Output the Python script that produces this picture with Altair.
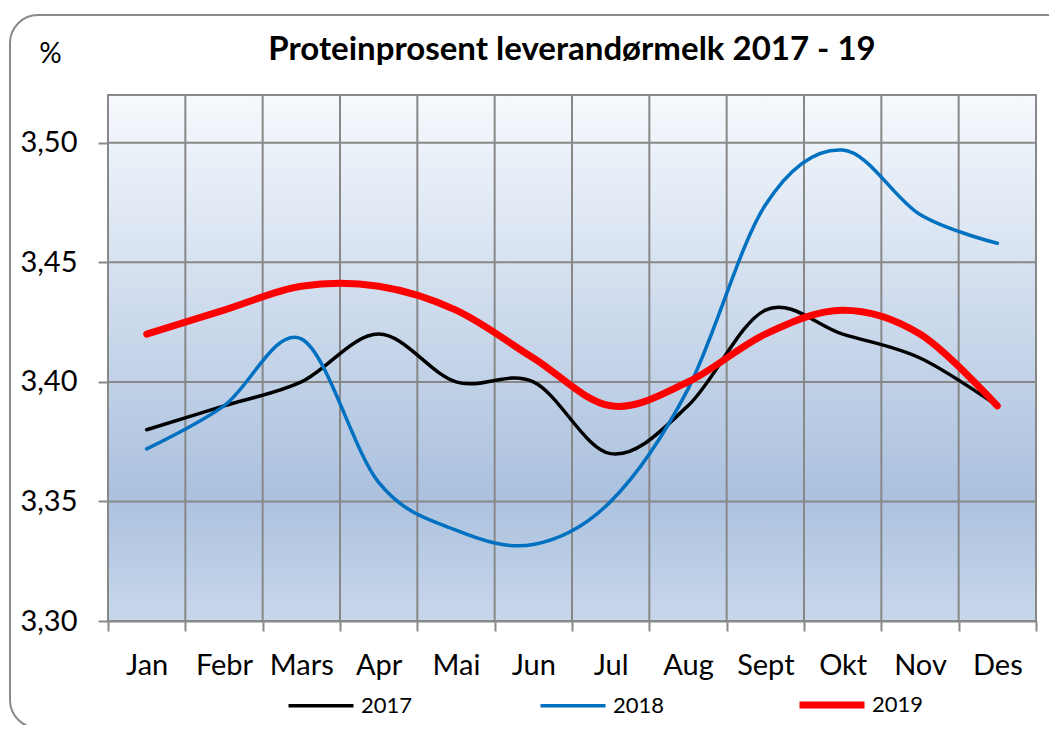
import altair as alt
import pandas as pd

months = ["Jan", "Febr", "Mars", "Apr", "Mai", "Jun", "Jul", "Aug", "Sept", "Okt", "Nov", "Des"]
years = ["2017", "2018", "2019"]
v2017 = [3.38, 3.39, 3.40, 3.42, 3.40, 3.40, 3.37, 3.39, 3.43, 3.42, 3.41, 3.39]
v2018 = [3.372, 3.39, 3.418, 3.358, 3.338, 3.332, 3.35, 3.397, 3.474, 3.497, 3.47, 3.458]
v2019 = [3.42, 3.43, 3.44, 3.44, 3.43, 3.41, 3.39, 3.40, 3.42, 3.43, 3.42, 3.39]
y_ticks = [3.30, 3.35, 3.40, 3.45, 3.50]

rows = []
for yr, vals in zip(years, [v2017, v2018, v2019]):
    for m, v in zip(months, vals):
        rows.append({"Måned": m, "År": yr, "Protein": v})
df = pd.DataFrame(rows)
df_months = pd.DataFrame({"Måned": months})
df_yticks = pd.DataFrame({"Protein": y_ticks})

FONT = "Lato"
GRID = "#888888"
W, H = 928, 526

bg = alt.Gradient(
    gradient="linear",
    x1=0, x2=0, y1=0, y2=1,
    stops=[
        alt.GradientStop(offset=0, color="#f6f9fd"),
        alt.GradientStop(offset=0.76, color="#abc1de"),
        alt.GradientStop(offset=1, color="#c8d7eb"),
    ],
)

x_scale = alt.Scale(domain=months, paddingInner=0, paddingOuter=0)
x_axis = alt.Axis(
    title=None,
    labelAngle=0,
    labelFont=FONT,
    labelFontSize=29,
    labelColor="#000000",
    labelPadding=20,
    tickBand="extent",
    tickSize=10,
    tickColor=GRID,
    tickWidth=2,
    grid=False,
    domainColor=GRID,
    domainWidth=2,
)

y_scale = alt.Scale(domain=[3.30, 3.52], nice=False, zero=False)
y_axis = alt.Axis(
    title="%",
    titleAngle=0,
    titleX=-58,
    titleY=-41,
    titleAlign="center",
    titleBaseline="middle",
    titleFont=FONT,
    titleFontSize=28,
    titleFontWeight="normal",
    titleColor="#000000",
    values=y_ticks,
    labelExpr="replace(format(datum.value, '.2f'), '.', ',')",
    labelFont=FONT,
    labelFontSize=29,
    labelColor="#000000",
    labelPadding=21,
    tickSize=10,
    tickColor=GRID,
    tickWidth=2,
    grid=False,
    domainColor=GRID,
    domainWidth=2,
)

background = alt.Chart(alt.Data(values=[{}])).mark_rect(
    fill=bg, stroke=GRID, strokeWidth=2
).encode(x=alt.value(0), x2=alt.value(W), y=alt.value(0), y2=alt.value(H))

vgrid = alt.Chart(df_months).mark_rule(color=GRID, strokeWidth=2).encode(
    x=alt.X("Måned:N", sort=months, bandPosition=0, scale=x_scale, axis=x_axis)
)

hgrid = alt.Chart(df_yticks).mark_rule(color=GRID, strokeWidth=2).encode(
    y=alt.Y("Protein:Q", scale=y_scale, axis=y_axis)
)

leg = dict(
    title=None,
    orient="none",
    direction="horizontal",
    legendX=177,
    legendY=574,
    columns=3,
    columnPadding=120,
    symbolType="stroke",
    symbolSize=4225,
    labelFont=FONT,
    labelFontSize=22,
    labelColor="#000000",
    labelOffset=4,
)

lines = alt.Chart(df).mark_line(interpolate="cardinal", strokeCap="round").encode(
    x=alt.X("Måned:N", sort=months, scale=x_scale, axis=x_axis),
    y=alt.Y("Protein:Q", scale=y_scale, axis=y_axis),
    color=alt.Color(
        "År:N",
        scale=alt.Scale(domain=years, range=["#000000", "#0070C0", "#FF0000"]),
        legend=alt.Legend(**leg),
    ),
    strokeWidth=alt.StrokeWidth(
        "År:N",
        scale=alt.Scale(type="ordinal", domain=years, range=[3.5, 3.5, 7]),
        legend=alt.Legend(**leg),
    ),
    order=alt.Order("År:N"),
)

frame = alt.Chart(alt.Data(values=[{}])).mark_rect(
    fill=None, stroke="#8a8a8a", strokeWidth=2, cornerRadius=28, clip=False
).encode(
    x=alt.value(-98), x2=alt.value(W + 60), y=alt.value(-80), y2=alt.value(H + 107)
)

chart = alt.layer(frame, background, vgrid, hgrid, lines).properties(
    width=W,
    height=H,
    autosize=alt.AutoSizeParams(type="none"),
    padding={"left": 100, "top": 87, "right": 13, "bottom": 104},
    title=alt.Title(
        "Proteinprosent leverandørmelk 2017 - 19",
        font=FONT,
        fontSize=33,
        fontWeight="bold",
        color="#000000",
        anchor="middle",
        offset=28,
        dy=81,
    ),
).configure_view(
    stroke=None
).configure(background="white")

chart.save("out.html", embed_options={"renderer": "svg", "actions": False})
